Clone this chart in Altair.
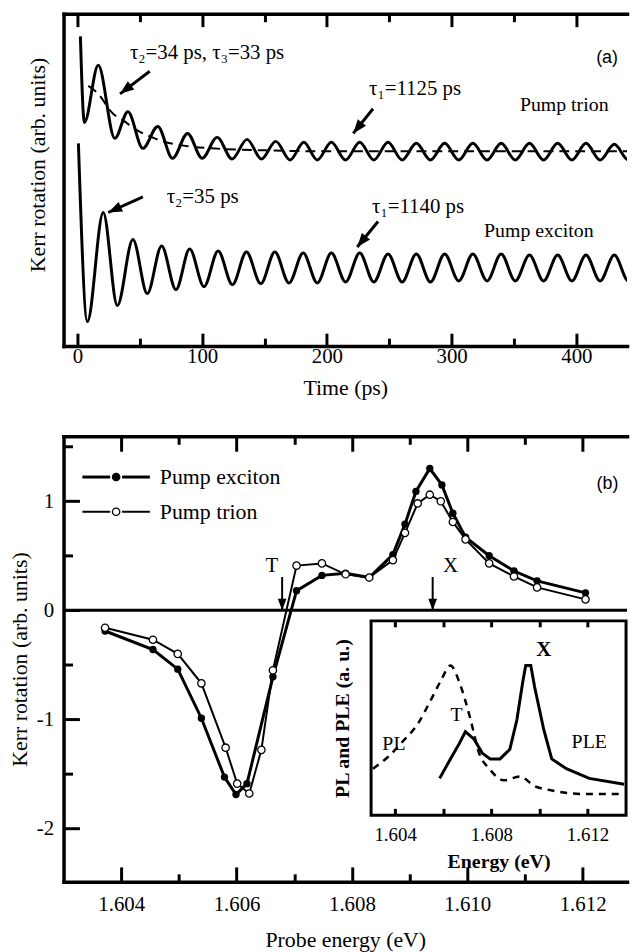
import altair as alt
import pandas as pd

# ---------------- values ----------------
# (a) time-resolved Kerr rotation, extrema of the traces (ps, arb. units)
time_trion = [2.4, 5.6, 16.7, 30.0, 40.5, 52.5, 64.4, 76.3, 88.3, 100.0,
              112.0, 124.0, 136.0, 147.5, 159.0, 170.5, 181.5, 192.3, 203.6, 215.0,
              226.3, 237.6, 249.0, 260.3, 271.7, 283.0, 294.4, 305.7, 317.0, 328.4,
              339.7, 351.0, 362.4, 373.7, 385.0, 396.4, 407.7, 419.0, 430.4, 441.7, 446.9]
kerr_trion = [9.32, 6.73, 8.45, 6.25, 7.05, 5.95, 6.61, 5.65, 6.40, 5.65,
              6.28, 5.63, 6.22, 5.63, 6.16, 5.60, 6.13, 5.60, 6.13, 5.60,
              6.13, 5.60, 6.13, 5.60, 6.10, 5.60, 6.10, 5.60, 6.10, 5.60,
              6.10, 5.60, 6.10, 5.60, 6.10, 5.60, 6.10, 5.60, 6.07, 5.60, 5.85]
time_exciton = [0.8, 8.0, 20.7, 32.0, 44.5, 56.0, 67.5, 79.0, 90.0, 101.5,
                112.8, 124.3, 135.5, 147.0, 158.3, 169.6, 181.0, 192.3, 203.6, 215.0,
                226.3, 237.6, 249.0, 260.3, 271.7, 283.0, 294.4, 305.7, 317.0, 328.4,
                339.7, 351.0, 362.4, 373.7, 385.0, 396.4, 407.7, 419.0, 430.4, 441.7, 446.9]
kerr_exciton = [6.10, 0.74, 4.02, 1.22, 3.21, 1.58, 3.01, 1.70, 2.92, 1.79,
                2.86, 1.85, 2.83, 1.88, 2.83, 1.90, 2.80, 1.90, 2.80, 1.93,
                2.80, 1.93, 2.77, 1.93, 2.77, 1.93, 2.77, 1.96, 2.77, 1.96,
                2.77, 1.96, 2.74, 1.96, 2.74, 1.96, 2.74, 1.96, 2.74, 1.96, 2.30]
time_fit = [8.7, 16.0, 28.6, 36.6, 48.0, 60.0, 66.0, 84.0, 108.0, 150.0, 200.0, 446.9]
kerr_fit = [7.83, 7.62, 6.99, 6.79, 6.49, 6.28, 6.19, 6.04, 5.95, 5.89, 5.86, 5.86]

# (b) Kerr rotation vs probe energy
energy_exciton = [1.60372, 1.60455, 1.60498, 1.60539, 1.60579, 1.60599, 1.60618, 1.60663,
                  1.60704, 1.60748, 1.60789, 1.60830, 1.60871, 1.60892, 1.60911, 1.60935,
                  1.60956, 1.60975, 1.60997, 1.61038, 1.61081, 1.61121, 1.61205]
kerr_b_exciton = [-0.19, -0.36, -0.54, -0.99, -1.53, -1.69, -1.59, -0.61,
                  0.18, 0.32, 0.34, 0.30, 0.51, 0.79, 1.09, 1.30,
                  1.15, 0.89, 0.67, 0.50, 0.36, 0.27, 0.16]
energy_trion = [1.60372, 1.60455, 1.60498, 1.60539, 1.60581, 1.60601, 1.60622, 1.60643,
                1.60663, 1.60704, 1.60748, 1.60789, 1.60830, 1.60871, 1.60892, 1.60914,
                1.60935, 1.60954, 1.60975, 1.60997, 1.61038, 1.61081, 1.61121, 1.61205]
kerr_b_trion = [-0.16, -0.27, -0.40, -0.67, -1.26, -1.59, -1.68, -1.28,
                -0.55, 0.41, 0.43, 0.33, 0.30, 0.46, 0.71, 0.98,
                1.06, 1.00, 0.81, 0.65, 0.43, 0.31, 0.21, 0.10]

# inset: PL and PLE spectra (a. u.)
energy_pl = [1.60308, 1.60370, 1.60432, 1.60494, 1.60543, 1.60589, 1.60630, 1.60671, 1.60712,
             1.60749, 1.60791, 1.60853, 1.60919, 1.60980, 1.61042, 1.61182, 1.61339]
pl = [0.24, 0.30, 0.38, 0.47, 0.58, 0.69, 0.77, 0.67, 0.50,
      0.32, 0.24, 0.18, 0.20, 0.15, 0.13, 0.11, 0.11]
energy_ple = [1.60585, 1.60630, 1.60667, 1.60692, 1.60729, 1.60762, 1.60795, 1.60836, 1.60877,
              1.60906, 1.60931, 1.60943, 1.60964, 1.60980, 1.61018, 1.61051, 1.61112, 1.61207, 1.61352]
ple = [0.19, 0.29, 0.37, 0.43, 0.39, 0.32, 0.29, 0.29, 0.34,
       0.49, 0.69, 0.77, 0.77, 0.66, 0.44, 0.29, 0.24, 0.19, 0.16]

series_names = ["Pump exciton", "Pump trion"]

# ticks
time_ticks = [0, 50, 100, 150, 200, 250, 300, 350, 400]
energy_ticks = [1.604, 1.605, 1.606, 1.607, 1.608, 1.609, 1.610, 1.611, 1.612]
kerr_ticks = [-2, -1.5, -1, -0.5, 0, 0.5, 1, 1.5]
inset_ticks = [1.604, 1.606, 1.608, 1.610, 1.612]

# annotations of (a)
a_labels = ["τ₂=34 ps, τ₃=33 ps", "τ₂=35 ps", "τ₁=1125 ps", "τ₁=1140 ps"]
a_label_t = [42.1, 71.6, 233.8, 236.2]
a_label_k = [8.81, 4.49, 7.74, 4.17]
a_names = ["Pump trion", "Pump exciton"]
a_names_t = [354.7, 326.0]
a_names_k = [7.24, 3.45]
arrow_tail_t = [58.0, 52.5, 237.0, 241.0]
arrow_tail_k = [8.27, 4.49, 7.14, 3.75]
arrow_head_t = [34.2, 24.7, 221.1, 224.3]
arrow_head_k = [7.59, 4.02, 6.40, 2.98]
arrow_angle = [232.5, 245.4, 218.7, 219.0]

# annotations of (b)
b_marks = ["T", "X"]
b_mark_e = [1.60661, 1.60971]
b_mark_k = [0.405, 0.405]
b_arrow_e = [1.60679, 1.60940]
b_arrow_top = [0.305, 0.305]
b_arrow_tip = [0.0, 0.0]
inset_labels = ["PL", "T", "PLE"]
inset_label_e = [1.60395, 1.60655, 1.61207]
inset_label_v = [0.367, 0.515, 0.378]

# ---------------- styling ----------------
FONT = "Liberation Serif"
SANS = "Liberation Sans"
W, HA, HB = 568, 335, 449
HEAD = "M0,0L0.38,1L-0.38,1Z"


def tick_len(test, major, minor):
    return {"condition": {"test": test, "value": major}, "value": minor}


# ---------------- panel (a) ----------------
xa = alt.Scale(domain=[-11.1, 440.6], nice=False, zero=False)
ya = alt.Scale(domain=[0, 10], nice=False, zero=False)
t_major = "datum.value % 100 === 0"

ax_time_bottom = alt.Axis(orient="bottom", values=time_ticks, title="Time (ps)",
                          labelExpr=f"{t_major} ? datum.label : ''",
                          tickSize=tick_len(t_major, -13, -8),
                          labelPadding=13, titlePadding=6)
ax_time_top = alt.Axis(orient="top", values=time_ticks, labels=False, title=None,
                       tickSize=tick_len(t_major, -13, -8))
ax_kerr_a = alt.Axis(orient="left", ticks=False, labels=False,
                     title="Kerr rotation (arb. units)", titlePadding=14, titleY=152)

df_tr = pd.DataFrame({"t": time_trion, "k": kerr_trion})
df_ex = pd.DataFrame({"t": time_exciton, "k": kerr_exciton})
df_fit = pd.DataFrame({"t": time_fit, "k": kerr_fit})

trion_a = alt.Chart(df_tr).mark_line(color="black", strokeWidth=3, interpolate="monotone",
                                     clip=True).encode(
    x=alt.X("t:Q", scale=xa, axis=ax_time_bottom),
    y=alt.Y("k:Q", scale=ya, axis=ax_kerr_a))
fit_a = alt.Chart(df_fit).mark_line(color="black", strokeWidth=2, strokeDash=[10, 6],
                                   interpolate="monotone", clip=True).encode(
    x=alt.X("t:Q", scale=xa, axis=ax_time_top),
    y=alt.Y("k:Q", scale=ya))
exc_a = alt.Chart(df_ex).mark_line(color="black", strokeWidth=3, interpolate="monotone",
                                   clip=True).encode(
    x=alt.X("t:Q", scale=xa, axis=None),
    y=alt.Y("k:Q", scale=ya))

df_alab = pd.DataFrame({"t": a_label_t, "k": a_label_k, "label": a_labels})
alab = alt.Chart(df_alab).mark_text(font=FONT, fontSize=21, align="left", baseline="middle",
                                    color="black").encode(
    x=alt.X("t:Q", scale=xa, axis=None), y=alt.Y("k:Q", scale=ya), text="label:N")
df_anames = pd.DataFrame({"t": a_names_t, "k": a_names_k, "label": a_names})
anames = alt.Chart(df_anames).mark_text(font=FONT, fontSize=20, align="left", baseline="middle",
                                        color="black").encode(
    x=alt.X("t:Q", scale=xa, axis=None), y=alt.Y("k:Q", scale=ya), text="label:N")
df_atag = pd.DataFrame({"t": [424.6], "k": [8.66], "label": ["(a)"]})
atag = alt.Chart(df_atag).mark_text(font=SANS, fontSize=18, align="center", baseline="middle",
                                    color="black").encode(
    x=alt.X("t:Q", scale=xa, axis=None), y=alt.Y("k:Q", scale=ya), text="label:N")

df_arr = pd.DataFrame({"t0": arrow_tail_t, "k0": arrow_tail_k, "t1": arrow_head_t,
                       "k1": arrow_head_k, "ang": arrow_angle})
arr_rule = alt.Chart(df_arr).mark_rule(color="black", strokeWidth=3).encode(
    x=alt.X("t0:Q", scale=xa, axis=None), y=alt.Y("k0:Q", scale=ya),
    x2="t1:Q", y2="k1:Q")
arr_head = alt.Chart(df_arr).mark_point(shape=HEAD, filled=True, color="black", opacity=1,
                                        size=784).encode(
    x=alt.X("t1:Q", scale=xa, axis=None), y=alt.Y("k1:Q", scale=ya),
    angle=alt.Angle("ang:Q", scale=None))

panel_a = alt.layer(trion_a, fit_a, exc_a, arr_rule, arr_head, alab, anames, atag).resolve_axis(
    x="independent").properties(width=W, height=HA)

# ---------------- panel (b) ----------------
xb = alt.Scale(domain=[1.603, 1.61277], nice=False, zero=False)
yb = alt.Scale(domain=[-2.49, 1.595], nice=False, zero=False)
e_major = "round(datum.value * 1000) % 2 === 0"
k_major = "datum.value % 1 === 0"

ax_e_bottom = alt.Axis(orient="bottom", values=energy_ticks, title="Probe energy (eV)",
                       labelExpr=f"{e_major} ? format(datum.value, '.3f') : ''",
                       tickSize=tick_len(e_major, -15, -8), labelPadding=27, titlePadding=8)
ax_e_top = alt.Axis(orient="top", values=energy_ticks, labels=False, title=None,
                    tickSize=tick_len(e_major, -15, -8))
ax_kerr_b = alt.Axis(orient="left", values=kerr_ticks, title="Kerr rotation (arb. units)",
                     labelExpr=f"{k_major} ? (datum.value < 0 ? '-' + abs(datum.value) : '' + datum.value) : ''",
                     tickSize=tick_len(k_major, -16, -9), labelPadding=26, titlePadding=5)

df_bex = pd.DataFrame({"e": energy_exciton, "k": kerr_b_exciton})
df_btr = pd.DataFrame({"e": energy_trion, "k": kerr_b_trion})

zero_line = alt.Chart(pd.DataFrame({"k": [0]})).mark_rule(color="black", strokeWidth=3).encode(
    y=alt.Y("k:Q", scale=yb))
exc_line = alt.Chart(df_bex).mark_line(color="black", strokeWidth=3).encode(
    x=alt.X("e:Q", scale=xb, axis=ax_e_bottom),
    y=alt.Y("k:Q", scale=yb, axis=ax_kerr_b))
exc_pts = alt.Chart(df_bex).mark_point(shape="circle", size=55, filled=True, opacity=1,
                                       color="black").encode(
    x=alt.X("e:Q", scale=xb, axis=None), y=alt.Y("k:Q", scale=yb))
tri_line = alt.Chart(df_btr).mark_line(color="black", strokeWidth=2).encode(
    x=alt.X("e:Q", scale=xb, axis=ax_e_top),
    y=alt.Y("k:Q", scale=yb))
tri_pts = alt.Chart(df_btr).mark_point(shape="circle", size=55, filled=True, opacity=1,
                                       fill="white", stroke="black", strokeWidth=1.3).encode(
    x=alt.X("e:Q", scale=xb, axis=None), y=alt.Y("k:Q", scale=yb))

df_barr = pd.DataFrame({"e": b_arrow_e, "k0": b_arrow_top, "k1": b_arrow_tip, "ang": [180, 180]})
barr_rule = alt.Chart(df_barr).mark_rule(color="black", strokeWidth=2).encode(
    x=alt.X("e:Q", scale=xb, axis=None), y=alt.Y("k0:Q", scale=yb), y2="k1:Q")
barr_head = alt.Chart(df_barr).mark_point(shape=HEAD, filled=True, color="black", opacity=1,
                                          size=529).encode(
    x=alt.X("e:Q", scale=xb, axis=None), y=alt.Y("k1:Q", scale=yb),
    angle=alt.Angle("ang:Q", scale=None))
df_btxt = pd.DataFrame({"e": b_mark_e, "k": b_mark_k, "label": b_marks})
btxt = alt.Chart(df_btxt).mark_text(font=FONT, fontSize=21, align="center", baseline="middle",
                                    color="black").encode(
    x=alt.X("e:Q", scale=xb, axis=None), y=alt.Y("k:Q", scale=yb), text="label:N")
df_btag = pd.DataFrame({"e": [1.61243], "k": [1.16], "label": ["(b)"]})
btag = alt.Chart(df_btag).mark_text(font=SANS, fontSize=18, align="center", baseline="middle",
                                    color="black").encode(
    x=alt.X("e:Q", scale=xb, axis=None), y=alt.Y("k:Q", scale=yb), text="label:N")


def legend_entry(name, ypix, line_w, fill):
    base = alt.Chart(pd.DataFrame({"label": [name]}))
    seg1 = base.mark_rule(color="black", strokeWidth=line_w).encode(
        x=alt.value(19), x2=alt.value(47), y=alt.value(ypix))
    seg2 = base.mark_rule(color="black", strokeWidth=line_w).encode(
        x=alt.value(59), x2=alt.value(87), y=alt.value(ypix))
    dot = base.mark_point(shape="circle", size=55, filled=True, opacity=1, fill=fill,
                          stroke="black", strokeWidth=1.3).encode(x=alt.value(53), y=alt.value(ypix))
    txt = base.mark_text(font=FONT, fontSize=22, align="left", baseline="middle",
                         color="black").encode(x=alt.value(97), y=alt.value(ypix), text="label:N")
    return [seg1, seg2, dot, txt]


legend_layers = legend_entry(series_names[0], 41, 3, "black") + legend_entry(series_names[1], 76, 2, "white")

main_b = alt.layer(exc_line, zero_line, exc_pts, tri_line, tri_pts, barr_rule, barr_head,
                   btxt, btag, *legend_layers).resolve_axis(x="independent")

# ---------------- inset ----------------
xi_dom = [1.603, 1.6136]
xi = alt.Scale(domain=xi_dom, range=[310, 567], nice=False, zero=False)
yi = alt.Scale(domain=[0, 1], range=[382, 186], nice=False, zero=False)
i_major = "round(datum.value * 1000) % 4 === 0"

ax_i_bottom = alt.Axis(orient="bottom", offset=-67, values=inset_ticks, domain=False,
                       labelExpr=f"{i_major} ? format(datum.value, '.3f') : ''",
                       tickSize={"expr": "-7"}, labelPadding=17, labelFontSize=19,
                       title="Energy (eV)", titleFontWeight="bold", titleFontSize=20, titlePadding=8)
ax_i_top = alt.Axis(orient="top", offset=-186, values=inset_ticks, domain=False, labels=False,
                    title=None, tickSize={"expr": "-6"})
ax_i_left = alt.Axis(orient="left", offset=-310, domain=False, ticks=False, labels=False,
                     title="PL and PLE (a. u.)", titleFontWeight="bold", titleFontSize=20,
                     titlePadding=19)

df_frame = pd.DataFrame({"e0": [xi_dom[0]], "e1": [xi_dom[1]], "v0": [0], "v1": [1]})
ple_line = alt.Chart(pd.DataFrame({"e": energy_ple, "v": ple})).mark_line(
    color="black", strokeWidth=3).encode(
    x=alt.X("e:Q", scale=xi, axis=ax_i_bottom), y=alt.Y("v:Q", scale=yi, axis=ax_i_left))
frame = alt.Chart(df_frame).mark_rect(fillOpacity=0, stroke="black", strokeWidth=3).encode(
    x=alt.X("e0:Q", scale=xi, axis=None), x2="e1:Q",
    y=alt.Y("v0:Q", scale=yi), y2="v1:Q")
pl_line = alt.Chart(pd.DataFrame({"e": energy_pl, "v": pl})).mark_line(
    color="black", strokeWidth=2.5, strokeDash=[7, 6], interpolate="monotone").encode(
    x=alt.X("e:Q", scale=xi, axis=ax_i_top), y=alt.Y("v:Q", scale=yi))
df_itxt = pd.DataFrame({"e": inset_label_e, "v": inset_label_v, "label": inset_labels})
itxt = alt.Chart(df_itxt).mark_text(font=FONT, fontSize=20, align="center", baseline="middle",
                                    color="black").encode(
    x=alt.X("e:Q", scale=xi, axis=None), y=alt.Y("v:Q", scale=yi), text="label:N")
df_ix = pd.DataFrame({"e": [1.61018], "v": [0.852], "label": ["X"]})
ix = alt.Chart(df_ix).mark_text(font=FONT, fontSize=21, fontWeight="bold", align="center",
                                baseline="middle", color="black").encode(
    x=alt.X("e:Q", scale=xi, axis=None), y=alt.Y("v:Q", scale=yi), text="label:N")

inset = alt.layer(ple_line, frame, pl_line, itxt, ix).resolve_axis(x="independent")

panel_b = alt.layer(main_b, inset).resolve_scale(x="independent", y="independent").properties(
    width=W, height=HB)

chart = alt.vconcat(panel_a, panel_b, spacing=36).properties(
    padding={"left": 0, "top": 0, "right": 0, "bottom": 0}
).configure_view(stroke=None).configure_axis(
    grid=False, labelFont=FONT, titleFont=FONT, labelFontSize=21, titleFontSize=22,
    titleFontWeight="normal", labelColor="black", titleColor="black", domainColor="black",
    tickColor="black", domainWidth=3.5, tickWidth=3, labelFlush=False, labelOverlap=False,
    domainCap="square")

chart.save("out.html", embed_options={"renderer": "svg", "actions": False})
